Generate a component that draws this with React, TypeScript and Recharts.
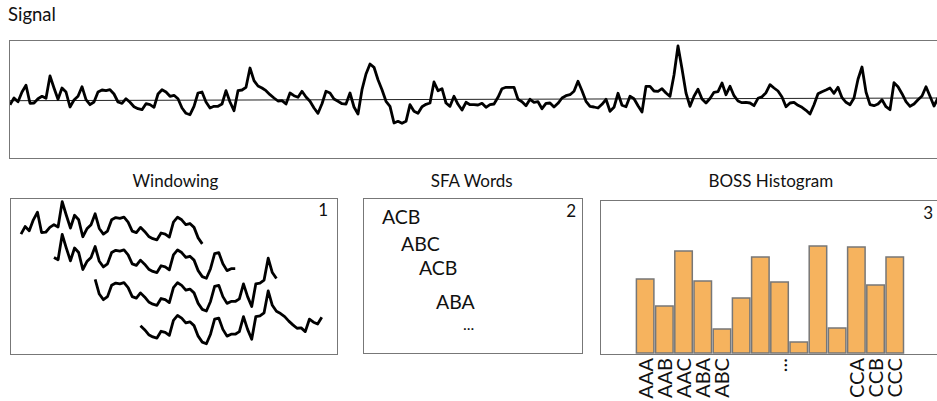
import React from 'react';
import { LineChart, Line, BarChart, Bar, XAxis, YAxis, ReferenceLine } from 'recharts';

// signal amplitude, one sample per time step
const signal = [
  -4.7, 2, -1.7, 8, 14.7, -3.3, -3, 1.3, 3.7, 1.7,
  24, 12, 0.7, 12, 8, -7, 0, 3.7, 13.3, 0.3,
  -4.7, -2, 8, 10, 9.3, 10.3, 6, -2, -3.3, 1.3,
  -2.3, -6.7, -8.7, -9.7, -3.7, -4.7, -7.3, 6, 10.3, 8,
  3.7, 4.7, 1.3, -8, -13.3, -14.7, -6.3, 7, 8, -2,
  -8, -6.3, -6.3, -4, 9.3, -2, -10.7, 9.3, 10, 12.7,
  32, 19.3, 14, 12, 9.3, 5.3, 2, -1, -0.7, -4,
  7, 4.3, 2.7, 8.7, 3, -1.3, -8, -13.3, -3.7, 8.7,
  7, 1, -1.3, -3.7, -4, 7, -7, -14, 10.3, 26,
  36, 32.7, 20.3, 10.3, -1.3, -6.3, -23, -21.3, -23.3, -21.3,
  -4.7, -11.3, -13.3, -6.7, -4.3, -3, 18, 9.3, 11.3, -3,
  -6.3, 3.7, -4.3, -10, -2.3, -4.7, -4.7, -5, -3.3, -7.3,
  -4.7, -4, 2.7, 11.3, 12.7, 12.7, 12.7, 0.7, -1.7, -5.7,
  0.7, -2.3, -1.7, -8.7, -3.3, -3, -7, -3.3, 2, 4.3,
  5.3, 8.7, 18.7, 9.3, -1.3, -6.3, -7, -8, -4.3, 0.7,
  -11.3, -7.3, 6.7, -5.3, -6.7, 3.7, 1.3, -5.7, -12, 13.7,
  13.7, 9, 8.7, 11.3, 7, 3.7, 25, 54, 31.3, 7,
  -6.3, 3.7, 10.7, 1, -3, 1.5, 7.7, 8.3, 17, 5.3,
  13.7, 4.3, -1, -2.7, -2.3, -3, -5.7, 1.7, 3.3, 7.3,
  15.3, 12, 9, 3, -6.7, -3, -2.3, -5.3, -7.3, -10.3,
  -14, -4.7, 6.3, 8.3, 10, 12, 6.7, 12.7, 2.3, -2.3,
  -4.7, 2, 20.7, 33, 8, -4.7, -5.7, -4, 0.3, -6.7,
  -9.7, 17.3, 13.3, 6.3, -1.7, -6.3, -4, 0.3, 4, 13.3,
  3.7, -6, 2,
];

// level line drawn through the signal (start, end)
const trendEnds = [-0.7, 2];

// sliding windows over the start of the signal
const windowStarts = [0, 8, 18, 29];
const windowLength = 44;
const windowShift = 29;

const sfaWords = ['ACB', 'ABC', 'ACB', 'ABA', '...'];

const wordLabels = ['AAA', 'AAB', 'AAC', 'ABA', 'ABC', '', '', '...', '', '', '', 'CCA', 'CCB', 'CCC'];
const wordCounts = [74, 47, 102, 72, 24, 55, 96, 71, 11, 107, 25, 106, 68, 96];

const FONT = "Lato, 'Open Sans', sans-serif";
const BORDER = '1.5px solid #777';

const signalData = signal.map((v, k) => ({ k, v }));

const windowData = Array.from({ length: 77 }, (_, k) => {
  const row: any = { k };
  windowStarts.forEach((s, i) => {
    row[`w${i}`] = k >= s && k <= s + windowLength && k < signal.length ? signal[k] - i * windowShift : null;
  });
  return row;
});

const histData = wordCounts.map((count, id) => ({ id, count }));

// where each SFA word sits inside the page (x, baseline, size)
const wordPos = [
  [382, 224, 19.5],
  [401, 251, 19.5],
  [419, 274.5, 19.5],
  [436, 308.5, 19.5],
  [463, 330, 16],
];

const WordTick = (props: any) => {
  const { x, y, payload } = props;
  const label = wordLabels[payload.value] ?? '';
  const bx = x + 7.5;
  return (
    <text
      x={bx}
      y={y}
      transform={`rotate(-90, ${bx}, ${y})`}
      textAnchor="end"
      fontSize={20}
      fontFamily={FONT}
      fill="#111"
    >
      {label}
    </text>
  );
};

const box = (left: number, top: number, width: number, height: number): React.CSSProperties => ({
  position: 'absolute',
  left,
  top,
  width,
  height,
  border: BORDER,
  boxSizing: 'border-box',
});

export default function App() {
  return (
    <div style={{ position: 'absolute', left: 0, top: 0, width: 937, height: 401, overflow: 'hidden', background: '#fff' }}>
      {/* panel frames */}
      <div style={box(9, 39.5, 940, 119)} />
      <div style={box(9.5, 197.5, 328, 157.5)} />
      <div style={box(362.5, 197.5, 220, 156)} />
      <div style={box(599.5, 199.5, 350, 155.5)} />

      {/* signal */}
      <div style={{ position: 'absolute', left: 10, top: 40 }}>
        <LineChart width={928} height={118} data={signalData} margin={{ top: 0, right: 0, bottom: 0, left: 0 }}>
          <XAxis type="number" dataKey="k" domain={[0, 232]} hide allowDataOverflow />
          <YAxis type="number" domain={[-58, 60]} hide allowDataOverflow />
          <ReferenceLine
            segment={[{ x: 0, y: trendEnds[0] }, { x: 232, y: trendEnds[1] }]}
            stroke="#222"
            strokeWidth={1}
          />
          <Line
            dataKey="v"
            stroke="#000"
            strokeWidth={2.8}
            dot={false}
            strokeLinejoin="round"
            type="linear"
            isAnimationActive={false}
          />
        </LineChart>
      </div>

      {/* windowing */}
      <div style={{ position: 'absolute', left: 10, top: 198 }}>
        <LineChart width={327} height={157} data={windowData} margin={{ top: 0, right: 0, bottom: 0, left: 0 }}>
          <XAxis type="number" dataKey="k" domain={[-2.67, 76.7]} hide allowDataOverflow />
          <YAxis type="number" domain={[-111.7, 27.3]} hide allowDataOverflow />
          {windowStarts.map((_, i) => (
            <Line
              key={i}
              dataKey={`w${i}`}
              stroke="#000"
              strokeWidth={2.8}
              dot={false}
              strokeLinejoin="round"
              type="linear"
              connectNulls={false}
              isAnimationActive={false}
            />
          ))}
        </LineChart>
      </div>

      {/* histogram */}
      <div style={{ position: 'absolute', left: 600, top: 190 }}>
        <BarChart width={337} height={211} data={histData} margin={{ top: 13, right: 32.8, bottom: 0, left: 35.4 }}>
          <XAxis
            dataKey="id"
            interval={0}
            height={48}
            tickSize={0}
            tickMargin={5}
            axisLine={false}
            tickLine={false}
            tick={<WordTick />}
          />
          <YAxis domain={[0, 150]} hide />
          <Bar dataKey="count" fill="#f6b35e" stroke="#777" strokeWidth={1.5} barSize={17.5} isAnimationActive={false} />
        </BarChart>
      </div>

      {/* texts */}
      <svg width={937} height={401} style={{ position: 'absolute', left: 0, top: 0, pointerEvents: 'none' }}>
        <g fontFamily={FONT} fill="#111">
          <text x={8} y={20.5} fontSize={18.5}>Signal</text>
          <text x={175.5} y={187} fontSize={17} textAnchor="middle">Windowing</text>
          <text x={471.7} y={187} fontSize={17} textAnchor="middle">SFA Words</text>
          <text x={770.8} y={186.5} fontSize={17} textAnchor="middle">BOSS Histogram</text>
          <text x={328} y={215.5} fontSize={17} textAnchor="end">1</text>
          <text x={576} y={217} fontSize={17} textAnchor="end">2</text>
          <text x={933} y={218.5} fontSize={17} textAnchor="end">3</text>
          {sfaWords.map((w, i) => (
            <text key={i} x={wordPos[i][0]} y={wordPos[i][1]} fontSize={wordPos[i][2]}>{w}</text>
          ))}
        </g>
      </svg>
    </div>
  );
}
